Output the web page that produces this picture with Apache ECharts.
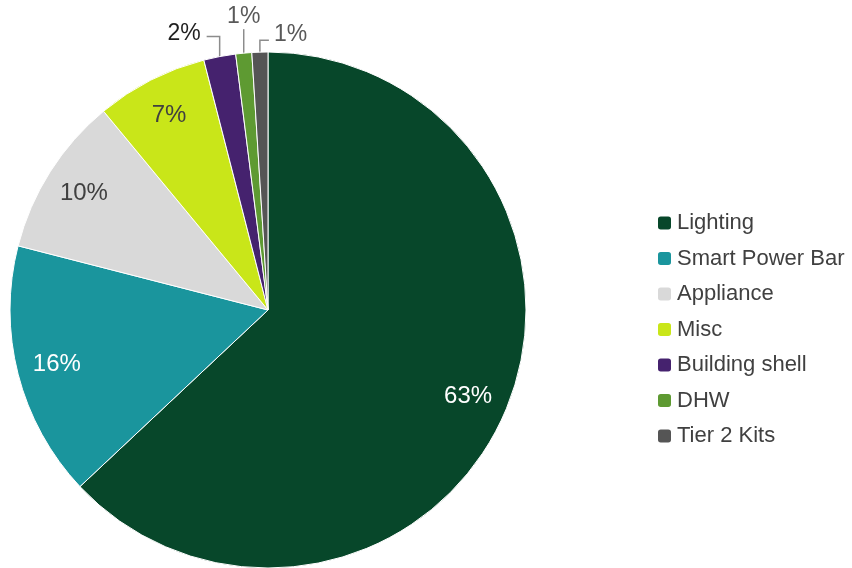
<!DOCTYPE html>
<html>
<head>
<meta charset="utf-8">
<script src="https://cdn.jsdelivr.net/npm/echarts@6/dist/echarts.min.js"></script>
<style>
  html, body { margin: 0; padding: 0; background: #ffffff; }
  #chart { width: 852px; height: 568px; }
</style>
</head>
<body>
<div id="chart"></div>
<script>
// Savings share by measure type (percent)
const categories = ['Lighting', 'Smart Power Bar', 'Appliance', 'Misc', 'Building shell', 'DHW', 'Tier 2 Kits'];
const shares = [63, 16, 10, 7, 2, 1, 1];
const colors = ['#07472a', '#1a959d', '#d9d9d9', '#c9e619', '#45226e', '#5e9a32', '#555555'];
const innerLabelColors = ['#ffffff', '#ffffff', '#404040', '#404040'];

const FONT = '"Liberation Sans", Arial, sans-serif';
const R = 258;
const smallFrom = 4; // slices from this index get outside labels

const chart = echarts.init(document.getElementById('chart'), null, { renderer: 'canvas' });

const mainData = categories.map((name, i) => ({
  name,
  value: shares[i],
  itemStyle: { color: colors[i] },
  label: i >= smallFrom
    ? { show: true, color: i === smallFrom ? '#1f1f1f' : '#595959' }
    : { show: false },
  labelLine: { show: i >= smallFrom }
}));

// transparent ring used only to place the large-slice labels near the rim
const ringData = categories.map((name, i) => ({
  name,
  value: shares[i],
  itemStyle: { color: 'rgba(0,0,0,0)' },
  label: i < smallFrom
    ? { show: true, color: innerLabelColors[i] }
    : { show: false }
}));

// leader lines for the narrow slices: straight up from the rim, then sideways
function smallLabelLayout(p) {
  const i = p.dataIndex;
  if (i < smallFrom || !p.labelLinePoints) return {};
  const s = p.labelLinePoints[0];
  if (i === 4) {
    const up = s[1] - 20;
    return {
      x: s[0] - 19, y: up - 3, align: 'right', verticalAlign: 'middle',
      labelLinePoints: [s, [s[0], up], [s[0] - 13, up]]
    };
  }
  if (i === 5) {
    const up = s[1] - 24;
    return {
      x: s[0], y: up - 1, align: 'center', verticalAlign: 'bottom',
      labelLinePoints: [s, [s[0], up], [s[0], up]]
    };
  }
  const up = s[1] - 12;
  return {
    x: s[0] + 14, y: up - 5, align: 'left', verticalAlign: 'middle',
    labelLinePoints: [s, [s[0], up], [s[0] + 9, up]]
  };
}

chart.setOption({
  animation: false,
  backgroundColor: '#ffffff',
  legend: {
    orient: 'vertical',
    left: 651,
    top: 207,
    itemWidth: 15,
    itemHeight: 15,
    itemGap: 13.5,
    icon: 'roundRect',
    data: categories,
    textStyle: { fontFamily: FONT, fontSize: 22, color: '#404040' }
  },
  series: [
    {
      type: 'pie',
      center: [268, 310],
      radius: [0, R],
      startAngle: 90,
      clockwise: true,
      avoidLabelOverlap: false,
      itemStyle: { borderColor: '#ffffff', borderWidth: 1 },
      label: {
        position: 'outside',
        formatter: '{c}%',
        fontFamily: FONT,
        fontSize: 23
      },
      labelLine: {
        length: 10,
        length2: 10,
        lineStyle: { color: '#8c8c8c', width: 1.5 }
      },
      labelLayout: smallLabelLayout,
      emphasis: { disabled: true },
      data: mainData
    },
    {
      type: 'pie',
      center: [268, 310],
      radius: [172, R],
      startAngle: 90,
      clockwise: true,
      silent: true,
      avoidLabelOverlap: false,
      label: {
        position: 'inside',
        formatter: '{c}%',
        fontFamily: FONT,
        fontSize: 24
      },
      labelLine: { show: false },
      emphasis: { disabled: true },
      data: ringData
    }
  ]
});
</script>
</body>
</html>
